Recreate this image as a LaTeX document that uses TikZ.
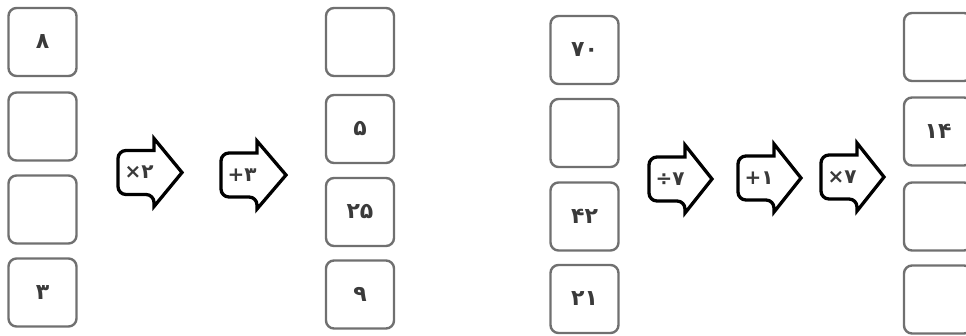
\documentclass[tikz,border=0pt]{standalone}
\usepackage{fontspec}
\newfontfamily\fa{DejaVu Sans Bold}
\definecolor{boxgray}{HTML}{707070}
\definecolor{numgray}{HTML}{3A3A3A}
\newcommand\oparrow[6]{%
  \draw[arrowline, rounded corners=8pt] (#2+36,#4-22) -- (#2,#4-22) -- (#2,#4+22) -- (#2+36,#4+22) [sharp corners] -- (#2+36,#4+34) -- (#3,#4) -- (#2+36,#4-34) -- cycle;
  \node[optext] (#1) at (#2+21,#4) {\mbox{#5}\mbox{#6}};}
\begin{document}
\begin{tikzpicture}[x=1pt,y=-1pt,
  cell/.style={draw=boxgray, line width=2.4pt, rounded corners=8pt, minimum width=68pt, minimum height=68pt, inner sep=0pt, font=\fa\fontsize{22}{22}\selectfont, text=numgray},
  arrowline/.style={draw=black, line width=3.3pt},
  optext/.style={inner sep=0pt, font=\fa\fontsize{20}{20}\selectfont, text=numgray}]
\useasboundingbox (0,0) rectangle (966,335);
% column 1
\node[cell] (a1) at (42.5,42) {۸};
\node[cell] (a2) at (42.5,126.5) {};
\node[cell] (a3) at (42.5,209.5) {};
\node[cell] (a4) at (42.5,292.5) {۳};
% column 2
\node[cell] (b1) at (360,42) {};
\node[cell] (b2) at (360,129) {۵};
\node[cell] (b3) at (360,212) {۲۵};
\node[cell] (b4) at (360,294.5) {۹};
% column 3
\node[cell] (c1) at (584.5,50) {۷۰};
\node[cell] (c2) at (584.5,133) {};
\node[cell] (c3) at (584.5,216.5) {۴۲};
\node[cell] (c4) at (584.5,299) {۲۱};
% column 4
\node[cell] (d1) at (938,47) {};
\node[cell] (d2) at (938,131.5) {۱۴};
\node[cell] (d3) at (938,216.5) {};
\node[cell] (d4) at (938,299.5) {};
% operator arrows
\oparrow{o1}{118}{182}{172.5}{×}{۲}
\oparrow{o2}{221}{286}{175}{+}{۳}
\oparrow{o3}{649}{712}{179}{÷}{۷}
\oparrow{o4}{738}{801}{178}{+}{۱}
\oparrow{o5}{821}{884}{177}{×}{۷}
\end{tikzpicture}
\end{document}
